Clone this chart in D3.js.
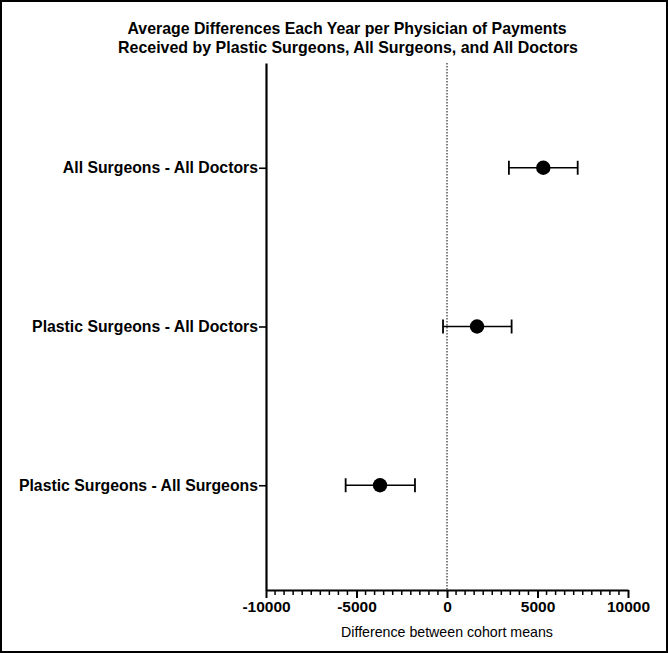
<!DOCTYPE html>
<html>
<head>
<meta charset="utf-8">
<script src="https://cdn.jsdelivr.net/npm/d3@7"></script>
<style>
  body { margin: 0; background: #fff; }
  svg { display: block; font-family: "Liberation Sans", Arial, Helvetica, sans-serif; }
</style>
</head>
<body>
<div id="chart"></div>
<script>
// comparisons, top to bottom
var comparisons = ["All Surgeons - All Doctors", "Plastic Surgeons - All Doctors", "Plastic Surgeons - All Surgeons"];
var meanDiff = [5320, 1660, -3700];
var ciLow = [3420, -220, -5600];
var ciHigh = [7220, 3570, -1770];
var xTicks = [-10000, -5000, 0, 5000, 10000];

var width = 668, height = 653;
var margin = {top: 63, right: 40, bottom: 63, left: 266};

var svg = d3.select('#chart').append('svg').attr('width', width).attr('height', height);

// frame round the whole picture
svg.append('rect').attr('x', 1).attr('y', 1).attr('width', width - 2).attr('height', height - 2)
   .attr('fill', '#fff').attr('stroke', '#000').attr('stroke-width', 2);

var x = d3.scaleLinear().domain([-10000, 10000]).range([margin.left, width - margin.right]);
var y = d3.scalePoint().domain(comparisons).range([margin.top, height - margin.bottom]).padding(0.66);

// zero line
svg.append('line')
   .attr('x1', x(0)).attr('x2', x(0))
   .attr('y1', margin.top).attr('y2', height - margin.bottom)
   .attr('stroke', '#000').attr('stroke-width', 1).attr('stroke-dasharray', '1.5,1.5');

// minor ticks on x
var minor = d3.range(-10000, 10001, 500).filter(function (d) { return d % 5000 !== 0; });
svg.append('g').selectAll('line').data(minor).enter().append('line')
   .attr('x1', function (d) { return x(d); }).attr('x2', function (d) { return x(d); })
   .attr('y1', height - margin.bottom).attr('y2', height - margin.bottom + 5)
   .attr('stroke', '#000').attr('stroke-width', 1.5);

var xAxis = svg.append('g')
   .attr('transform', 'translate(0,' + (height - margin.bottom) + ')')
   .call(d3.axisBottom(x).tickValues(xTicks).tickSize(8).tickSizeOuter(0).tickPadding(3)
     .tickFormat(function (d) { return String(d); }));
xAxis.select('.domain').attr('stroke-width', 2.2);
xAxis.selectAll('.tick line').attr('stroke-width', 2);
xAxis.selectAll('text').attr('font-size', 15.5).attr('font-weight', 'bold').attr('fill', '#000');

var yAxis = svg.append('g')
   .attr('transform', 'translate(' + margin.left + ',0)')
   .call(d3.axisLeft(y).tickSize(7).tickSizeOuter(0).tickPadding(1));
yAxis.select('.domain').attr('stroke-width', 2.2);
yAxis.selectAll('.tick line').attr('stroke-width', 1.6);
yAxis.selectAll('text').attr('font-size', 15.8).attr('font-weight', 'bold').attr('fill', '#000');

// error bars
var rows = comparisons.map(function (c, i) {
  return {name: c, mean: meanDiff[i], lo: ciLow[i], hi: ciHigh[i]};
});
var g = svg.append('g');
g.selectAll('.bar').data(rows).enter().append('line')
   .attr('x1', function (d) { return x(d.lo); }).attr('x2', function (d) { return x(d.hi); })
   .attr('y1', function (d) { return y(d.name); }).attr('y2', function (d) { return y(d.name); })
   .attr('stroke', '#000').attr('stroke-width', 1.5);
['lo', 'hi'].forEach(function (k) {
  g.selectAll('.cap-' + k).data(rows).enter().append('line')
     .attr('x1', function (d) { return x(d[k]); }).attr('x2', function (d) { return x(d[k]); })
     .attr('y1', function (d) { return y(d.name) - 7; }).attr('y2', function (d) { return y(d.name) + 7; })
     .attr('stroke', '#000').attr('stroke-width', 1.8);
});
g.selectAll('circle').data(rows).enter().append('circle')
   .attr('cx', function (d) { return x(d.mean); }).attr('cy', function (d) { return y(d.name); })
   .attr('r', 7.2).attr('fill', '#000');

// titles (taller, narrower face like the original)
var title = svg.append('text').attr('text-anchor', 'middle').attr('font-size', 17).attr('font-weight', 'bold');
title.append('tspan').attr('x', 347).attr('y', 34)
   .attr('textLength', 439).attr('lengthAdjust', 'spacingAndGlyphs')
   .text('Average Differences Each Year per Physician of Payments');
title.append('tspan').attr('x', 348).attr('y', 53)
   .attr('textLength', 460).attr('lengthAdjust', 'spacingAndGlyphs')
   .text('Received by Plastic Surgeons, All Surgeons, and All Doctors');

svg.append('text').attr('x', x(0)).attr('y', 637).attr('text-anchor', 'middle')
   .attr('font-size', 14.2).text('Difference between cohort means');
</script>
</body>
</html>
